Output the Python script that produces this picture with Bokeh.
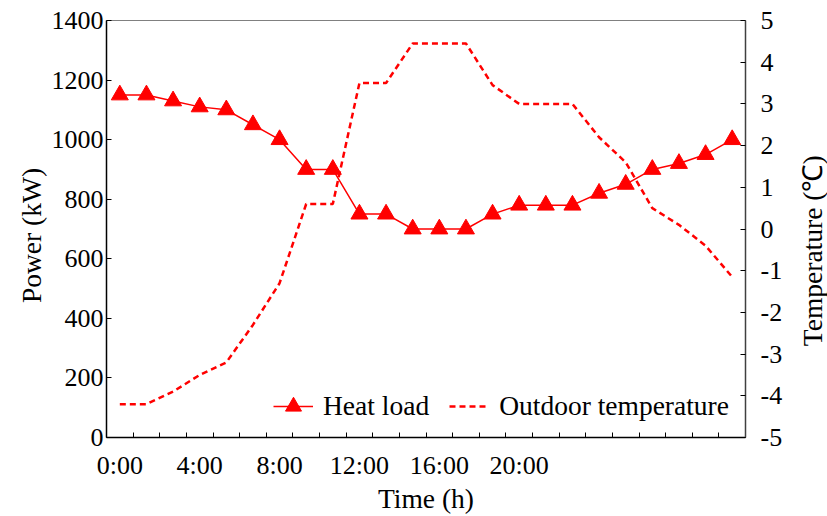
import math
from bokeh.plotting import figure
from bokeh.layouts import row
from bokeh.models import Range1d, LinearAxis, FixedTicker, Legend, LegendItem, Label
from bokeh.embed import file_html
from bokeh.resources import INLINE

# ---- data ----
slots = list(range(24))
heat_load = [1150, 1150, 1130, 1110, 1100, 1050, 1000, 900, 900, 750, 750, 700,
             700, 700, 750, 780, 780, 780, 820, 850, 900, 920, 950, 1000]
outdoor_temp = [-4.2, -4.2, -3.9, -3.5, -3.2, -2.3, -1.3, 0.6, 0.6, 3.5, 3.5, 4.45,
                4.45, 4.45, 3.45, 3.0, 3.0, 3.0, 2.2, 1.6, 0.5, 0.1, -0.4, -1.15]
time_tick_slots = [0, 3, 6, 9, 12, 15]
time_tick_labels = ["0:00", "4:00", "8:00", "12:00", "16:00", "20:00"]
power_ticks = [0, 200, 400, 600, 800, 1000, 1200, 1400]
temp_ticks = [-5, -4, -3, -2, -1, 0, 1, 2, 3, 4, 5]
left_title = "Power (kW)"
right_title = "Temperature (\u2103)"
x_title = "Time (h)"

FONT = "Liberation Serif"
RED = "#ff0000"
TICK_FS = "26px"
LABEL_FS = "27.5px"
H = 516
LEFT_W = 48
RIGHT_W = 32
MAIN_W = 827 - LEFT_W - RIGHT_W

p = figure(width=MAIN_W, height=H, output_backend="svg", toolbar_location=None,
           x_range=Range1d(-0.5, 23.5), y_range=Range1d(0, 1400),
           min_border_left=105 - LEFT_W, min_border_right=MAIN_W - (745 - LEFT_W),
           min_border_top=20, min_border_bottom=79)
p.extra_y_ranges = {"temp": Range1d(-5, 5)}
p.xgrid.grid_line_color = None
p.ygrid.grid_line_color = None
p.outline_line_color = "#808080"
p.outline_line_width = 1
p.background_fill_color = "white"
p.border_fill_color = "white"


def style_labels(ax):
    ax.major_label_text_font = FONT
    ax.major_label_text_font_size = TICK_FS
    ax.major_label_text_color = "black"
    ax.axis_label_text_font = FONT
    ax.axis_label_text_font_size = LABEL_FS
    ax.axis_label_text_font_style = "normal"
    ax.axis_label_text_color = "black"


# x axis
xa = p.xaxis[0]
boundaries = [s - 0.5 for s in slots] + [slots[-1] + 0.5]
xa.ticker = FixedTicker(ticks=time_tick_slots, minor_ticks=boundaries)
xa.major_label_overrides = {t: l for t, l in zip(time_tick_slots, time_tick_labels)}
xa.major_tick_line_color = None
xa.minor_tick_in = 5
xa.minor_tick_out = 0
xa.minor_tick_line_color = "black"
xa.axis_line_color = "black"
xa.axis_line_width = 1.5
xa.major_label_standoff = 7
xa.axis_label = x_title
xa.axis_label_standoff = 0
style_labels(xa)

# left y axis
ya = p.yaxis[0]
ya.ticker = FixedTicker(ticks=power_ticks)
ya.minor_tick_line_color = None
ya.major_tick_in = 5
ya.major_tick_out = 0
ya.axis_line_color = "black"
ya.axis_line_width = 1.5
ya.major_label_standoff = 3
style_labels(ya)

# right y axis
ra = LinearAxis(y_range_name="temp", ticker=FixedTicker(ticks=temp_ticks),
                major_label_overrides={t: str(t) for t in temp_ticks})
ra.minor_tick_line_color = None
ra.major_tick_in = 5
ra.major_tick_out = 0
ra.axis_line_color = "#404040"
ra.axis_line_width = 1.5
ra.major_label_standoff = 15
style_labels(ra)
p.add_layout(ra, "right")

# series
hl_line = p.line(slots, heat_load, line_color=RED, line_width=1.5)
hl_mark = p.scatter(slots, heat_load, marker="triangle", size=17, fill_color=RED, line_color=RED)
t_line = p.line(slots, outdoor_temp, y_range_name="temp", line_color=RED, line_width=2.5,
                line_dash="6 4")

legend = Legend(items=[LegendItem(label="Heat load", renderers=[hl_line, hl_mark]),
                       LegendItem(label="Outdoor temperature", renderers=[t_line])],
                orientation="horizontal", location=(167, 11))
legend.border_line_color = None
legend.background_fill_alpha = 0
legend.padding = 0
legend.margin = 0
legend.spacing = 20
legend.glyph_width = 40
legend.glyph_height = 40
legend.label_standoff = 10
legend.label_text_font = FONT
legend.label_text_font_size = LABEL_FS
legend.label_text_color = "black"
p.add_layout(legend, "center")


# side strips carrying the rotated axis titles (read bottom-to-top)
def title_strip(width, cx, cy, text):
    f = figure(width=width, height=H, output_backend="svg", toolbar_location=None,
               x_range=Range1d(0, width), y_range=Range1d(0, H),
               x_axis_type=None, y_axis_type=None, min_border=0)
    f.outline_line_color = None
    f.background_fill_color = "white"
    f.border_fill_color = "white"
    f.add_layout(Label(x=cx, y=H - cy, text=text, angle=math.pi / 2,
                       text_align="center", text_baseline="middle",
                       text_font=FONT, text_font_size=LABEL_FS, text_color="black"))
    return f


left_strip = title_strip(LEFT_W, 31, 266, left_title)
right_strip = title_strip(RIGHT_W, 812 - (827 - RIGHT_W), 285, right_title)

layout = row(left_strip, p, right_strip, spacing=0)
open("out.html", "w").write(file_html(layout, INLINE))
